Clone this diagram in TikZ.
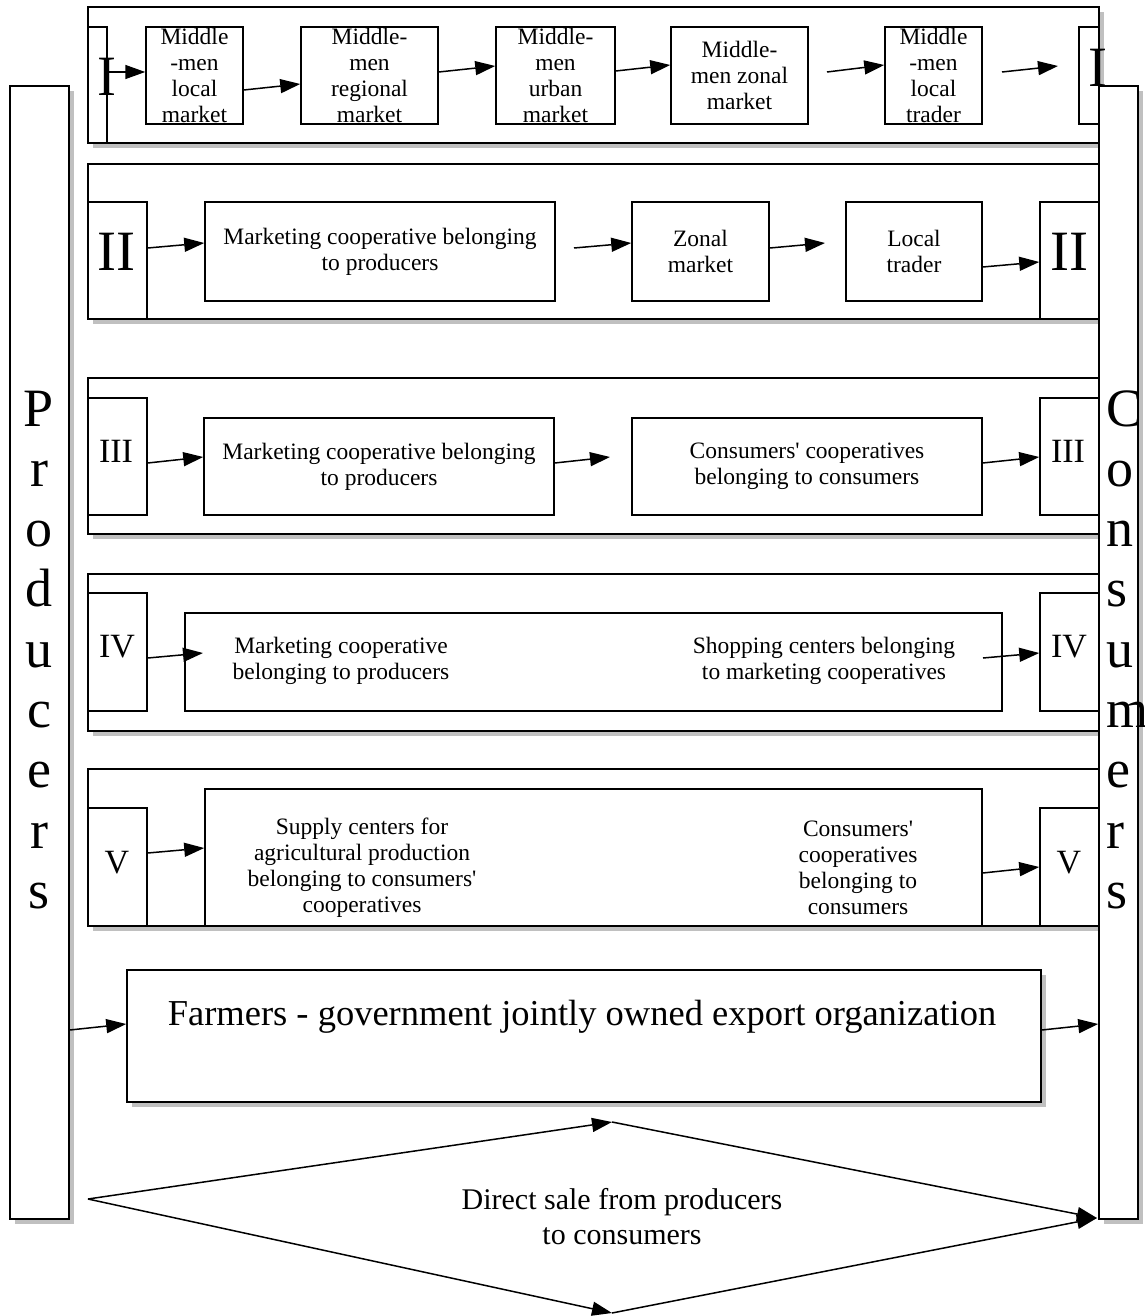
\documentclass[tikz,border=0pt]{standalone}
\usepackage{fontspec}
\setmainfont{Liberation Serif}
\usetikzlibrary{arrows.meta, shadows}

\begin{document}
\begin{tikzpicture}[
    x=1pt, y=-1pt,
    box/.style={draw=black, line width=1.5pt, fill=white, inner sep=0pt, align=center, font=\fontsize{23.5}{26}\selectfont},
    shadowed/.style={box, drop shadow={shadow xshift=5pt, shadow yshift=-5pt, fill=black!45, opacity=0.55}},
    txt/.style={inner sep=0pt, align=center, font=\fontsize{23.5}{26}\selectfont},
    roman/.style={inner sep=0pt, font=\fontsize{34}{40}\selectfont},
    bigroman/.style={inner sep=0pt, font=\fontsize{57}{60}\selectfont},
    letter/.style={inner sep=0pt, font=\fontsize{54}{60}\selectfont},
    arrow/.style={-{Triangle[length=20pt, width=14pt]}, line width=1.5pt}
]
\useasboundingbox (0,0) rectangle (1144,1316);

% Channel rows
\node[shadowed, minimum width=1011pt, minimum height=136pt] (rowI) at (593.5,75) {};
\node[shadowed, minimum width=1011pt, minimum height=155pt] (rowII) at (593.5,241.5) {};
\node[shadowed, minimum width=1011pt, minimum height=156pt] (rowIII) at (593.5,456) {};
\node[shadowed, minimum width=1011pt, minimum height=157pt] (rowIV) at (593.5,652.5) {};
\node[shadowed, minimum width=1011pt, minimum height=157pt] (rowV) at (593.5,847.5) {};

% Row I
\node[box, minimum width=19pt, minimum height=116pt] (lI) at (97.5,85) {};
\node[box, minimum width=20pt, minimum height=97pt] (rI) at (1089,75.5) {};
\node[box, minimum width=97pt, minimum height=97pt] (mm1) at (194.5,75.5) {Middle\\-men\\local\\market};
\node[box, minimum width=137pt, minimum height=97pt] (mm2) at (369.5,75.5) {Middle-\\men\\regional\\market};
\node[box, minimum width=119pt, minimum height=97pt] (mm3) at (555.5,75.5) {Middle-\\men\\urban\\market};
\node[box, minimum width=137pt, minimum height=97pt] (mm4) at (739.5,75.5) {Middle-\\men zonal\\market};
\node[box, minimum width=97pt, minimum height=97pt] (mm5) at (933.5,75.5) {Middle\\-men\\local\\trader};

% Row II
\node[box, minimum width=59pt, minimum height=117pt] (lII) at (117.5,260.5) {};
\node[box, minimum width=59pt, minimum height=117pt] (rII) at (1069.5,260.5) {};
\node[box, minimum width=350pt, minimum height=99pt] (mcII) at (380,251.5) {Marketing cooperative belonging\\to producers};
\node[box, minimum width=137pt, minimum height=99pt] (zonal) at (700.5,251.5) {Zonal\\market};
\node[box, minimum width=136pt, minimum height=99pt] (local) at (914,251.5) {Local\\trader};

% Row III
\node[box, minimum width=59pt, minimum height=117pt] (lIII) at (117.5,456.5) {};
\node[box, minimum width=59pt, minimum height=117pt] (rIII) at (1069.5,456.5) {};
\node[box, minimum width=350pt, minimum height=97pt] (mcIII) at (379,466.5) {Marketing cooperative belonging\\to producers};
\node[box, minimum width=350pt, minimum height=97pt] (ccIII) at (807,466.5) {Consumers\textquotesingle{} cooperatives\\belonging to consumers};

% Row IV
\node[box, minimum width=59pt, minimum height=118pt] (lIV) at (117.5,652) {};
\node[box, minimum width=59pt, minimum height=118pt] (rIV) at (1069.5,652) {};
\node[box, minimum width=817pt, minimum height=98pt] (bIV) at (593.5,662) {};
\node[txt] (mcIV) at (341,661) {Marketing cooperative\\belonging to producers};
\node[txt] (shIV) at (824,661) {Shopping centers belonging\\to marketing cooperatives};

% Row V
\node[box, minimum width=59pt, minimum height=118pt] (lV) at (117.5,867) {};
\node[box, minimum width=59pt, minimum height=118pt] (rV) at (1069.5,867) {};
\node[box, minimum width=777pt, minimum height=137pt] (bV) at (593.5,857.5) {};
\node[txt] (spV) at (362,868) {Supply centers for\\agricultural production\\belonging to consumers\textquotesingle\\cooperatives};
\node[txt] (ccV) at (858,868) {Consumers\textquotesingle\\cooperatives\\belonging to\\consumers};

% Export organization
\node[shadowed, minimum width=914pt, minimum height=132pt] (farm) at (584,1036) {};
\node[txt, font=\fontsize{36.5}{40}\selectfont] (farmtxt) at (582,1017) {Farmers - government jointly owned export organization};

% Producers and consumers
\node[shadowed, minimum width=59pt, minimum height=1133pt] (prod) at (39.5,652.5) {};
\node[shadowed, minimum width=39pt, minimum height=1133pt] (cons) at (1118.5,652.5) {};
\foreach \ch [count=\i from 0] in {P,r,o,d,u,c,e,r,s}
    \node[letter, anchor=base] (p\i) at (39,426+60.3*\i) {\ch};
\foreach \ch [count=\i from 0] in {C,o,n,s,u,m,e,r,s}
    \node[letter, anchor=base west] (c\i) at (1106,426+60.3*\i) {\ch};

% Channel numbers
\node[bigroman] (nIl) at (107,77) {I};
\node[bigroman] (nIr) at (1098,68) {I};
\node[bigroman] (nIIl) at (116,252) {II};
\node[bigroman] (nIIr) at (1069,252) {II};
\node[roman] (nIIIl) at (116,451) {III};
\node[roman] (nIIIr) at (1068,451) {III};
\node[roman] (nIVl) at (117,647) {IV};
\node[roman] (nIVr) at (1069,647) {IV};
\node[roman] (nVl) at (117,863) {V};
\node[roman] (nVr) at (1069,863) {V};

% Free arrow ends
\coordinate (g1) at (827,72);
\coordinate (g2) at (1002,72);
\coordinate (g3) at (1058,66);
\coordinate (g4) at (574,248);
\coordinate (g5) at (825,243);
\coordinate (g6) at (610,457);
\coordinate (g7) at (203,653);
\coordinate (g8) at (983,658);

% Arrows
\draw[arrow] (lI.east |- 0,72) -- (mm1.west |- 0,72);
\draw[arrow] (mm1.east |- 0,90) -- (mm2.west |- 0,84);
\draw[arrow] (mm2.east |- 0,72) -- (mm3.west |- 0,66);
\draw[arrow] (mm3.east |- 0,71) -- (mm4.west |- 0,65);
\draw[arrow] (g1) -- (mm5.west |- 0,65);
\draw[arrow] (g2) -- (g3);

\draw[arrow] (lII.east |- 0,248) -- (mcII.west |- 0,243);
\draw[arrow] (g4) -- (zonal.west |- 0,243);
\draw[arrow] (zonal.east |- 0,248) -- (g5);
\draw[arrow] (local.east |- 0,267) -- (rII.west |- 0,262);

\draw[arrow] (lIII.east |- 0,463) -- (mcIII.west |- 0,457);
\draw[arrow] (mcIII.east |- 0,463) -- (g6);
\draw[arrow] (ccIII.east |- 0,463) -- (rIII.west |- 0,457);

\draw[arrow] (lIV.east |- 0,658) -- (g7);
\draw[arrow] (g8) -- (rIV.west |- 0,653);

\draw[arrow] (lV.east |- 0,853) -- (bV.west |- 0,848);
\draw[arrow] (bV.east |- 0,873) -- (rV.west |- 0,867);

\draw[arrow] (prod.east |- 0,1030) -- (farm.west |- 0,1024);
\draw[arrow] (farm.east |- 0,1030) -- (cons.west |- 0,1024);

% Direct sale
\coordinate (dL) at (88,1199);
\coordinate (dT) at (612,1122);
\coordinate (dR) at (1097,1218);
\coordinate (dB) at (612,1313);
\draw[arrow] (dL) -- (dT);
\draw[arrow] (dT) -- (dR);
\draw[arrow] (dL) -- (dB);
\draw[arrow] (dB) -- (dR);
\node[txt, font=\fontsize{30}{35}\selectfont] (direct) at (622,1217) {Direct sale from producers\\to consumers};

\end{tikzpicture}
\end{document}
